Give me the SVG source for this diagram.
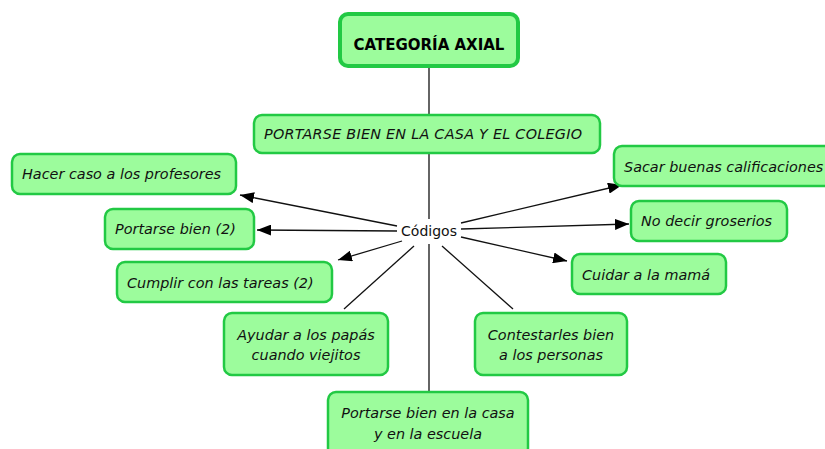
<svg xmlns="http://www.w3.org/2000/svg" width="825" height="449" viewBox="0 0 825 449">
<defs>
<marker id="ah" viewBox="0 0 14 11" refX="14" refY="5.5" markerWidth="14" markerHeight="11" markerUnits="userSpaceOnUse" orient="auto">
<path d="M0,0 L14,5.5 L0,11 Z" fill="#000"/>
</marker>
<style>
.box{fill:#9cfc9c;stroke:#22c944;stroke-width:2.5}
.title{fill:#9cfc9c;stroke:#22c944;stroke-width:4}
.t{font-family:"DejaVu Sans",Verdana,sans-serif;font-size:14.4px;font-style:italic;fill:#111}
.tc{text-anchor:middle}
.b{font-family:"DejaVu Sans",Verdana,sans-serif;font-size:15px;font-weight:bold;fill:#000;text-anchor:middle}
.c{stroke:#111;stroke-width:1.3;fill:none}
.a{marker-end:url(#ah)}
</style>
</defs>
<rect width="825" height="449" fill="#fff"/>
<g id="connectors">
<line class="c" x1="429" y1="66" x2="429" y2="115"/>
<line class="c" x1="429" y1="153" x2="429" y2="219"/>
<line class="c" x1="429" y1="244" x2="429" y2="392"/>
<line class="c a" x1="397" y1="226" x2="240" y2="195"/>
<line class="c a" x1="397" y1="231" x2="257" y2="230"/>
<line class="c a" x1="402" y1="241" x2="338" y2="260"/>
<line class="c" x1="414" y1="246" x2="344" y2="309"/>
<line class="c" x1="442" y1="246" x2="513" y2="309"/>
<line class="c a" x1="461" y1="223" x2="622" y2="185"/>
<line class="c a" x1="461" y1="229" x2="629" y2="224"/>
<line class="c a" x1="461" y1="237" x2="567" y2="261"/>
</g>
<g id="categoria">
<rect class="title" x="340" y="14" width="178" height="52" rx="8"/>
<text class="b" x="429" y="50">CATEGORÍA AXIAL</text>
</g>
<g id="portarse-casa-colegio">
<rect class="box" x="254" y="115" width="346" height="38" rx="8"/>
<text class="t" x="264" y="139" textLength="318" lengthAdjust="spacing">PORTARSE BIEN EN LA CASA Y EL COLEGIO</text>
</g>
<g id="codigos">
<text x="429" y="236" style="font-family:'DejaVu Sans',Verdana,sans-serif;font-size:14px;fill:#111;text-anchor:middle">Códigos</text>
</g>
<g id="hacer-caso">
<rect class="box" x="12" y="154" width="224" height="40" rx="8"/>
<text class="t" x="22" y="179">Hacer caso a los profesores</text>
</g>
<g id="portarse-bien">
<rect class="box" x="105" y="209" width="149" height="40" rx="8"/>
<text class="t" x="115" y="234">Portarse bien (2)</text>
</g>
<g id="cumplir">
<rect class="box" x="117" y="262" width="215" height="40" rx="8"/>
<text class="t" x="127" y="288">Cumplir con las tareas (2)</text>
</g>
<g id="ayudar">
<rect class="box" x="224" y="313" width="164" height="62" rx="8"/>
<text class="t tc" x="306" y="340">Ayudar a los papás</text>
<text class="t tc" x="306" y="360">cuando viejitos</text>
</g>
<g id="contestarles">
<rect class="box" x="475" y="313" width="152" height="62" rx="8"/>
<text class="t tc" x="551" y="340">Contestarles bien</text>
<text class="t tc" x="551" y="360">a los personas</text>
</g>
<g id="portarse-casa-escuela">
<rect class="box" x="328" y="392" width="200" height="64" rx="8"/>
<text class="t tc" x="428" y="418">Portarse bien en la casa</text>
<text class="t tc" x="428" y="439">y en la escuela</text>
</g>
<g id="sacar">
<rect class="box" x="614" y="146" width="220" height="40" rx="8"/>
<text class="t" x="624" y="172">Sacar buenas calificaciones</text>
</g>
<g id="no-decir">
<rect class="box" x="631" y="201" width="156" height="40" rx="8"/>
<text class="t" x="641" y="226">No decir groserios</text>
</g>
<g id="cuidar">
<rect class="box" x="572" y="254" width="154" height="40" rx="8"/>
<text class="t" x="582" y="280">Cuidar a la mamá</text>
</g>
</svg>
